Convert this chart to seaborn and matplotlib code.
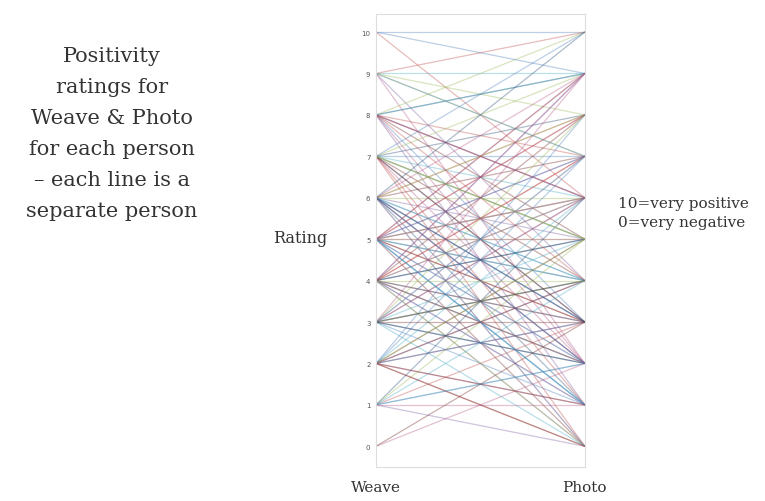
import matplotlib
matplotlib.use("Agg")
import matplotlib.pyplot as plt
import seaborn as sns
import pandas as pd

categories = ["Weave", "Photo"]
weave = [10, 10,
         9, 9, 9, 9,
         8, 8, 8, 8, 8, 8,
         7, 7, 7, 7, 7, 7, 7,
         6, 6, 6, 6, 6, 6, 6, 6,
         5, 5, 5, 5, 5, 5, 5, 5, 5,
         4, 4, 4, 4, 4, 4, 4, 4,
         3, 3, 3, 3, 3, 3, 3,
         2, 2, 2, 2, 2, 2,
         1, 1, 1, 1,
         0,
         7, 6, 5, 4, 3, 8, 6, 5, 4, 2,
         10, 9, 9, 8, 8, 8, 7, 7, 7, 7,
         6, 6, 6, 6, 6, 5, 5, 5, 5, 5,
         5, 4, 4, 4, 4, 4, 4, 3, 3, 3,
         3, 3, 2, 2, 2, 2, 1, 1, 1, 0,
         9, 8, 7, 6, 5, 4, 3, 2, 6, 5,
         7, 4, 3, 5, 6, 2, 1, 8, 4, 5]
photo = [10, 6,
         8, 4, 9, 2,
         9, 5, 3, 7, 10, 1,
         6, 2, 8, 4, 7, 0, 9,
         5, 3, 9, 1, 7, 4, 8, 6,
         6, 2, 8, 4, 0, 7, 3, 5, 9,
         6, 1, 5, 8, 3, 7, 2, 0,
         5, 7, 2, 4, 1, 6, 8,
         4, 6, 1, 3, 5, 7,
         3, 5, 0, 2,
         2,
         3, 2, 1, 6, 4, 6, 0, 5, 2, 4,
         9, 10, 7, 6, 9, 2, 5, 3, 10, 1,
         8, 2, 4, 0, 10, 3, 1, 9, 6, 2,
         4, 9, 5, 3, 1, 7, 0, 6, 0, 9,
         2, 3, 8, 0, 5, 3, 4, 1, 6, 3,
         7, 6, 5, 3, 1, 2, 4, 0, 2, 8,
         5, 9, 7, 6, 3, 1, 2, 4, 4, 7]
yticks = list(range(0, 11))

rows = []
for i, (w, p) in enumerate(zip(weave, photo)):
    rows.append({"person": i, "condition": 0, "rating": w})
    rows.append({"person": i, "condition": 1, "rating": p})
df = pd.DataFrame(rows)

sns.set_style("white")
base = ["#4F81BD", "#C0504D", "#9BBB59", "#8064A2", "#4BACC6", "#B65C8A", "#2C4D75", "#772C2A"]
pal = [base[i % len(base)] for i in range(len(weave))]

fig = plt.figure(figsize=(7.65, 5.02), dpi=100)
ax = fig.add_axes([0.4915, 0.0677, 0.273, 0.902])
sns.lineplot(data=df, x="condition", y="rating", hue="person", units="person",
             estimator=None, palette=pal, legend=False, linewidth=0.9, alpha=0.38, ax=ax)

ax.set_xlim(0, 1)
ax.set_ylim(-0.5, 10.43)
ax.set_xticks([0, 1])
ax.set_xticklabels(categories, family="DejaVu Serif", fontsize=11, color="#333333")
ax.set_yticks(yticks)
ax.set_yticklabels([str(t) for t in yticks], fontsize=5, color="#555555")
ax.tick_params(axis="y", length=2, pad=2)
ax.tick_params(axis="x", length=0, pad=9)
ax.set_xlabel("")
ax.set_ylabel("")
for s in ax.spines.values():
    s.set_color("#dddddd")
    s.set_linewidth(0.8)

fig.text(0.146, 0.734, "Positivity\nratings for\nWeave & Photo\nfor each person\n\u2013 each line is a\nseparate person",
         ha="center", va="center", family="DejaVu Serif", fontsize=15, color="#333333",
         linespacing=1.8)
fig.text(0.393, 0.525, "Rating", ha="center", va="center", family="DejaVu Serif",
         fontsize=11.5, color="#333333")
fig.text(0.808, 0.575, "10=very positive\n0=very negative", ha="left", va="center",
         family="DejaVu Serif", fontsize=11, color="#333333", linespacing=1.5)

fig.savefig("out.png", dpi=100)
